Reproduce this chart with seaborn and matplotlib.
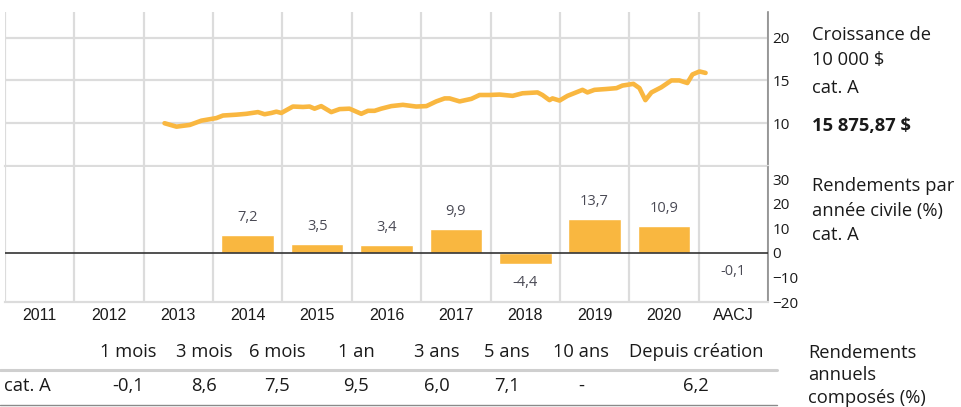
import pandas as pd
import numpy as np
import seaborn as sns
import matplotlib.pyplot as plt
from matplotlib.lines import Line2D
from matplotlib import font_manager

# --- data ---
annees = ['2011', '2012', '2013', '2014', '2015', '2016', '2017', '2018', '2019', '2020', 'AACJ']
rendements = [np.nan, np.nan, np.nan, 7.2, 3.5, 3.4, 9.9, -4.4, 13.7, 10.9, -0.1]

dates = ['2013-04-20', '2013-06-22', '2013-08-31', '2013-10-31', '2014-01-18', '2014-02-22',
         '2014-05-04', '2014-06-25', '2014-08-25', '2014-09-29', '2014-11-04', '2014-11-30',
         '2014-12-26', '2015-02-25', '2015-04-19', '2015-05-24', '2015-06-19', '2015-07-24',
         '2015-09-15', '2015-10-29', '2015-12-20', '2016-02-20', '2016-03-26', '2016-04-30',
         '2016-06-04', '2016-07-27', '2016-09-26', '2016-12-05', '2017-01-28', '2017-03-21',
         '2017-05-04', '2017-05-30', '2017-07-22', '2017-09-22', '2017-11-04', '2017-12-27',
         '2018-02-17', '2018-04-27', '2018-06-18', '2018-09-05', '2018-10-01', '2018-11-07',
         '2018-11-23', '2018-12-30', '2019-02-10', '2019-04-30', '2019-05-26', '2019-07-02',
         '2019-09-03', '2019-10-26', '2019-11-26', '2020-01-23', '2020-02-24', '2020-03-26',
         '2020-04-27', '2020-06-18', '2020-08-10', '2020-09-21', '2020-11-02', '2020-11-29',
         '2021-01-05', '2021-02-06']
croissance = [10.0, 9.6, 9.8, 10.3, 10.6, 10.9,
              11.0, 11.1, 11.3, 11.05, 11.2, 11.35,
              11.2, 11.95, 11.9, 11.95, 11.7, 12.0,
              11.3, 11.65, 11.7, 11.1, 11.45, 11.45,
              11.7, 12.0, 12.15, 11.95, 12.0, 12.55,
              12.9, 12.9, 12.55, 12.85, 13.3, 13.3,
              13.35, 13.2, 13.5, 13.6, 13.3, 12.7,
              12.9, 12.65, 13.2, 13.9, 13.6, 13.9,
              14.0, 14.1, 14.4, 14.6, 14.1, 12.7,
              13.6, 14.2, 15.0, 15.0, 14.7, 15.7,
              16.05, 15.88]

periodes = ['1 mois', '3 mois', '6 mois', '1 an', '3 ans', '5 ans', '10 ans', 'Depuis création']
rend_composes = ['-0,1', '8,6', '7,5', '9,5', '6,0', '7,1', '-', '6,2']
valeur_finale = '15 875,87 $'

# --- style ---
sns.set_style('white')
plt.rcParams['font.family'] = ['Open Sans', 'DejaVu Sans']
orange = '#F9B740'
grille = '#DCDCDC'
texte = '#1a1a1a'
taille = 13.2

# narrow face for the year labels if there is one
police_annees = 'Liberation Sans'
for nom in ('Liberation Sans Narrow', 'DejaVu Sans Condensed'):
    try:
        font_manager.findfont(nom, fallback_to_default=False)
        police_annees = nom
        break
    except ValueError:
        pass

W, H = 962, 407
fig = plt.figure(figsize=(W / 100, H / 100), dpi=100)


def px_axes(l, t, r, b):
    return fig.add_axes([l / W, 1 - b / H, (r - l) / W, (b - t) / H])


def px_text(x, y, s, **kw):
    kw.setdefault('fontsize', taille)
    kw.setdefault('color', texte)
    fig.text(x / W, 1 - y / H, s, va='center', **kw)


ax1 = px_axes(5, 12, 768, 166)
ax2 = px_axes(5, 167, 768, 302)

# --- growth line ---
t0 = pd.Timestamp('2011-01-01')
xs = [(pd.Timestamp(d) - t0).days / 365.25 - 0.5 for d in dates]
sns.lineplot(x=xs, y=croissance, ax=ax1, color=orange, lw=3.3, solid_capstyle='round')
ax1.set_xlim(-0.5, len(annees) - 0.5)
ax1.set_ylim(5, 23)
ax1.set_yticks([10, 15, 20])
ax1.set_xticks(np.arange(-0.5, len(annees)))
ax1.set_xticklabels([])
ax1.grid(True, color=grille, lw=1.6)
ax1.set_axisbelow(True)
ax1.yaxis.tick_right()
ax1.tick_params(axis='both', length=0)
ax1.tick_params(axis='y', labelsize=11, labelcolor=texte, pad=3)

# --- calendar year bars ---
df = pd.DataFrame({'annee': annees, 'rendement': rendements})
sns.barplot(data=df, x='annee', y='rendement', order=annees, color=orange,
            saturation=1, width=0.76, ax=ax2)
for i, v in enumerate(rendements):
    if np.isnan(v):
        continue
    off = 12.5 if v > 0 else -13.5
    ax2.annotate(f'{v:.1f}'.replace('.', ','), (i, v), xytext=(0, off),
                 textcoords='offset points', ha='center', va='center',
                 fontsize=10.5, color='#4a4a55')
ax2.axhline(0, color='#333333', lw=1.2, zorder=3)
ax2.set_xlim(-0.5, len(annees) - 0.5)
ax2.set_ylim(-20, 35)
ax2.set_yticks([-20, -10, 0, 10, 20, 30])
ax2.set_xticks(np.arange(-0.5, len(annees)), minor=True)
ax2.grid(True, which='minor', axis='x', color=grille, lw=1.6)
ax2.grid(False, which='major')
ax2.set_axisbelow(True)
ax2.set_xlabel('')
ax2.set_ylabel('')
ax2.yaxis.tick_right()
ax2.tick_params(axis='both', which='both', length=0)
ax2.tick_params(axis='y', labelsize=11, labelcolor=texte, pad=3)
ax2.tick_params(axis='x', pad=4, labelsize=11.5, labelcolor=texte,
                labelfontfamily=police_annees)

for ax in (ax1, ax2):
    for s in ('top', 'left'):
        ax.spines[s].set_visible(False)
    ax.spines['bottom'].set_color(grille)
    ax.spines['bottom'].set_linewidth(1.6)
    ax.spines['right'].set_color('#8a8a8a')
    ax.spines['right'].set_linewidth(1.2)

# --- side captions ---
px_text(812, 35, 'Croissance de')
px_text(812, 60, '10 000 $')
px_text(812, 88, 'cat. A')
px_text(812, 126, valeur_finale, fontweight='bold')
px_text(812, 186, 'Rendements par')
px_text(812, 211, 'année civile (%)')
px_text(812, 235, 'cat. A')

# --- compound returns table ---
centres = [128, 204, 277, 356, 437, 507, 581, 696]
for c, p, v in zip(centres, periodes, rend_composes):
    px_text(c, 352, p, ha='center')
    px_text(c, 386, v, ha='center')
px_text(4, 386, 'cat. A')
fig.add_artist(Line2D([0, 777 / W], [1 - 370 / H] * 2, color='#CFCFCF', lw=2.2))
fig.add_artist(Line2D([0, 777 / W], [1 - 405 / H] * 2, color='#8a8a8a', lw=1.0))
px_text(808, 353, 'Rendements')
px_text(808, 375, 'annuels')
px_text(808, 398, 'composés (%)')

fig.savefig('out.png', dpi=100)
